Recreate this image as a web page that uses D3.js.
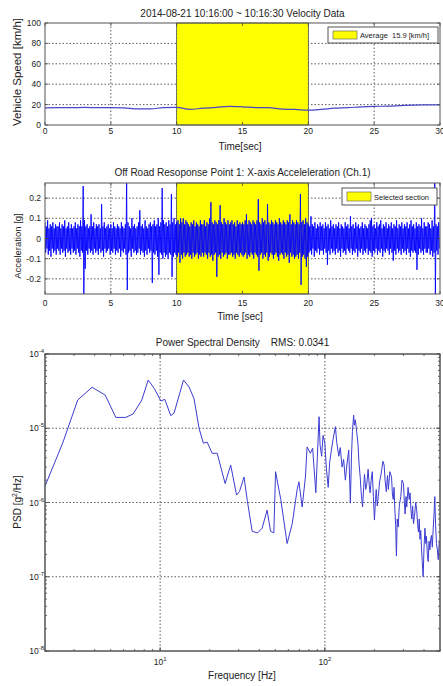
<!DOCTYPE html>
<html>
<head>
<meta charset="utf-8">
<script src="https://cdn.jsdelivr.net/npm/d3@7"></script>
<style>
body { margin: 0; background: #fff; }
text { font-family: "Liberation Sans", Arial, sans-serif; fill: #222; white-space: pre; }
</style>
</head>
<body>
<script>
const width = 443;
const height = 686;

// ---- Panel 1: vehicle speed [km/h] vs time [s]
const velTime = [0,1,2,3,4,5,6,7,8,9,10,11,12,13,14,15,16,17,18,19,20,21,22,23,24,25,26,27,28,29,30];
const velSpeed = [16.8,17,17,17.2,17,17,16.8,15.8,15.8,17,17.2,15.3,16.5,17.2,18.3,17.8,17,17,15.5,15.3,14.5,15.3,16.5,17,17.8,18.3,18.5,19,19.5,19.7,19.8];
const velTicksX = [0,5,10,15,20,25,30];
const velTicksY = [0,20,40,60,80,100];

// ---- Panel 2: acceleration [g], envelope peaks read every 0.1 s (one row per second)
const accStep = 0.1;
const accUpper = [
  0.08,0.06,0.09,0.05,0.07,0.06,0.08,0.05,0.07,0.06,
  0.06,0.08,0.05,0.07,0.06,0.09,0.05,0.06,0.08,0.05,
  0.07,0.05,0.06,0.08,0.05,0.07,0.06,0.09,0.06,0.26,
  0.09,0.06,0.07,0.05,0.06,0.12,0.06,0.08,0.05,0.07,
  0.06,0.07,0.05,0.17,0.06,0.08,0.05,0.06,0.07,0.05,
  0.07,0.05,0.08,0.06,0.05,0.07,0.06,0.05,0.08,0.06,
  0.05,0.07,0.28,0.08,0.06,0.05,0.10,0.06,0.07,0.05,
  0.06,0.08,0.14,0.06,0.07,0.05,0.09,0.06,0.05,0.07,
  0.08,0.06,0.07,0.09,0.06,0.07,0.10,0.06,0.08,0.25,
  0.09,0.07,0.08,0.06,0.09,0.07,0.22,0.08,0.10,0.07,
  0.08,0.09,0.07,0.10,0.08,0.10,0.07,0.09,0.08,0.07,
  0.06,0.08,0.07,0.09,0.06,0.08,0.07,0.06,0.09,0.07,
  0.07,0.09,0.06,0.08,0.07,0.10,0.18,0.08,0.07,0.09,
  0.08,0.07,0.09,0.165,0.08,0.07,0.10,0.08,0.07,0.09,
  0.07,0.08,0.09,0.07,0.08,0.06,0.09,0.07,0.08,0.07,
  0.08,0.07,0.09,0.12,0.07,0.09,0.08,0.07,0.09,0.08,
  0.07,0.09,0.195,0.08,0.07,0.10,0.08,0.09,0.07,0.17,
  0.08,0.07,0.09,0.08,0.07,0.09,0.08,0.07,0.10,0.08,
  0.07,0.09,0.08,0.07,0.09,0.08,0.12,0.07,0.09,0.08,
  0.07,0.09,0.08,0.07,0.22,0.08,0.09,0.07,0.10,0.08,
  0.07,0.06,0.11,0.07,0.06,0.08,0.05,0.07,0.06,0.08,
  0.06,0.07,0.05,0.08,0.06,0.07,0.05,0.09,0.06,0.07,
  0.05,0.07,0.06,0.08,0.05,0.07,0.06,0.05,0.08,0.06,
  0.07,0.05,0.11,0.06,0.07,0.05,0.08,0.06,0.07,0.05,
  0.06,0.08,0.05,0.07,0.06,0.05,0.07,0.09,0.10,0.06,
  0.07,0.05,0.08,0.06,0.07,0.09,0.05,0.07,0.06,0.08,
  0.05,0.07,0.06,0.08,0.05,0.07,0.06,0.09,0.05,0.07,
  0.06,0.08,0.05,0.07,0.06,0.08,0.05,0.07,0.09,0.06,
  0.07,0.05,0.08,0.06,0.07,0.06,0.10,0.05,0.08,0.06,
  0.06,0.08,0.07,0.05,0.09,0.06,0.28,0.07,0.06,0.08
];
const accLower = [
  -0.07,-0.05,-0.08,-0.06,-0.09,-0.05,-0.07,-0.06,-0.08,-0.05,
  -0.06,-0.08,-0.05,-0.07,-0.06,-0.09,-0.05,-0.07,-0.06,-0.08,
  -0.05,-0.07,-0.06,-0.08,-0.05,-0.07,-0.09,-0.06,-0.07,-0.275,
  -0.15,-0.06,-0.08,-0.05,-0.07,-0.06,-0.08,-0.05,-0.07,-0.06,
  -0.08,-0.05,-0.07,-0.06,-0.09,-0.05,-0.07,-0.06,-0.05,-0.08,
  -0.06,-0.07,-0.05,-0.08,-0.06,-0.07,-0.05,-0.09,-0.06,-0.07,
  -0.05,-0.08,-0.255,-0.07,-0.06,-0.09,-0.05,-0.07,-0.06,-0.08,
  -0.07,-0.05,-0.08,-0.06,-0.07,-0.09,-0.06,-0.08,-0.05,-0.07,
  -0.06,-0.22,-0.07,-0.08,-0.06,-0.09,-0.18,-0.07,-0.08,-0.10,
  -0.07,-0.09,-0.08,-0.10,-0.07,-0.08,-0.19,-0.09,-0.07,-0.08,
  -0.09,-0.07,-0.12,-0.08,-0.10,-0.07,-0.09,-0.08,-0.07,-0.09,
  -0.08,-0.10,-0.07,-0.09,-0.08,-0.07,-0.10,-0.08,-0.09,-0.07,
  -0.09,-0.07,-0.08,-0.10,-0.07,-0.09,-0.08,-0.11,-0.08,-0.07,
  -0.19,-0.09,-0.08,-0.10,-0.07,-0.09,-0.08,-0.07,-0.10,-0.08,
  -0.08,-0.07,-0.09,-0.08,-0.10,-0.07,-0.08,-0.09,-0.07,-0.08,
  -0.09,-0.08,-0.07,-0.10,-0.08,-0.09,-0.07,-0.08,-0.10,-0.07,
  -0.08,-0.09,-0.16,-0.08,-0.07,-0.10,-0.08,-0.09,-0.07,-0.11,
  -0.09,-0.07,-0.08,-0.10,-0.08,-0.07,-0.09,-0.11,-0.08,-0.07,
  -0.08,-0.10,-0.07,-0.09,-0.08,-0.12,-0.07,-0.09,-0.08,-0.10,
  -0.09,-0.08,-0.10,-0.07,-0.23,-0.09,-0.08,-0.10,-0.14,-0.09,
  -0.07,-0.06,-0.08,-0.05,-0.09,-0.06,-0.07,-0.05,-0.08,-0.06,
  -0.06,-0.08,-0.05,-0.07,-0.13,-0.06,-0.08,-0.05,-0.07,-0.06,
  -0.08,-0.05,-0.07,-0.06,-0.09,-0.05,-0.07,-0.06,-0.08,-0.05,
  -0.06,-0.07,-0.05,-0.08,-0.06,-0.07,-0.05,-0.09,-0.06,-0.07,
  -0.05,-0.08,-0.06,-0.07,-0.05,-0.08,-0.06,-0.07,-0.09,-0.06,
  -0.07,-0.05,-0.08,-0.06,-0.07,-0.05,-0.09,-0.06,-0.07,-0.05,
  -0.06,-0.08,-0.05,-0.07,-0.11,-0.06,-0.08,-0.05,-0.07,-0.06,
  -0.08,-0.05,-0.07,-0.06,-0.08,-0.05,-0.07,-0.09,-0.06,-0.07,
  -0.06,-0.07,-0.155,-0.08,-0.05,-0.07,-0.06,-0.08,-0.05,-0.07,
  -0.07,-0.05,-0.08,-0.06,-0.09,-0.07,-0.275,-0.06,-0.08,-0.05
];
const accTicksX = [0,5,10,15,20,25,30];
const accTicksY = [-0.2,-0.1,0,0.1,0.2];

// ---- Panel 3: PSD [g^2/Hz] vs frequency [Hz]
const psdFreq = [2,2.56,3.16,3.86,4.64,5.38,6.19,6.86,7.74,8.46,9.2,10.1,10.67,11.6,12.15,13.86,14.98,16.06,17.23,18.3,19.3,20.7,22.2,24.8,26.8,29.1,30.3,32.3,33.8,36.2,39,41.6,44.6,46.8,49,50.2,54,59,63.4,67.9,69.6,72.8,76.2,78,81.7,84.3,
  88.1,90,92.2,93.5,95.6,97.5,100,102,104.8,107,109.6,112,115.9,118,121.5,124,127.2,130,133.2,136,139.6,141,142.8,145,147,149.5,151,153,156.5,159,161,163.9,166,169.4,172,174,177,179.8,183,186,188.3,191,194,197,
  200,203,205,208,211,215,220,225,229,232,236,240,243,248,254,257,260,263,266,269,272,275,279,283,289,294,300,304,307,311,314,320,325,329,333,337,341,345,350,356,361,366,370,374,378,382,386,390,395,
  400,405,410,414,419,424,429,434,439,444,449,454,460,465,470,476,482,488,495];
const psdValue = [1.66e-6,6.3e-6,2.4e-5,3.56e-5,2.8e-5,1.4e-5,1.4e-5,1.56e-5,2.4e-5,4.46e-5,3.45e-5,2.33e-5,2.45e-5,1.48e-5,1.6e-5,4.46e-5,3.6e-5,2.5e-5,1e-5,6.3e-6,6.5e-6,4.6e-6,4.6e-6,1.8e-6,3.2e-6,1.26e-6,1.4e-6,2.2e-6,1.07e-6,4.1e-7,3.9e-7,4.5e-7,7.9e-7,4.1e-7,3.9e-7,2.6e-6,1.1e-6,2.8e-7,5.2e-7,1.5e-6,1.9e-6,8.7e-7,2.2e-6,5.6e-6,4.6e-6,5.4e-6,
  1.35e-6,4e-6,1.43e-5,6e-6,4.2e-6,8e-6,6.3e-6,3e-6,1.6e-6,3.5e-6,5.1e-6,7e-6,1.05e-5,6.5e-6,4.2e-6,5.5e-6,3e-6,3.8e-6,2e-6,3.2e-6,5.1e-6,2.5e-6,9.8e-7,4e-6,9e-6,1.5e-5,1.1e-5,1.3e-5,8.5e-6,6e-6,3.5e-6,2.2e-6,1.4e-6,8.7e-7,1.6e-6,2.4e-6,1.5e-6,1.8e-6,2.8e-6,1.7e-6,1.35e-6,2e-6,2.6e-6,1.2e-6,
  5.8e-7,1.1e-6,1.5e-6,9e-7,1.2e-6,1.9e-6,2.5e-6,3.6e-6,3.2e-6,2e-6,1.4e-6,2.3e-6,1.5e-6,2.6e-6,2.2e-6,1.3e-6,1.1e-6,1.6e-6,8e-7,5e-7,1.9e-7,6e-7,4.7e-7,9e-7,1.2e-6,2e-6,1.8e-6,1e-6,7e-7,1.2e-6,8.7e-7,1.6e-6,1.1e-6,1.35e-6,8e-7,6e-7,9e-7,5.2e-7,6.5e-7,1e-6,8e-7,5e-7,4e-7,6e-7,3.2e-7,4.2e-7,2.5e-7,1.6e-7,1e-7,
  2.5e-7,4.5e-7,2.8e-7,3.5e-7,2e-7,1.6e-7,3e-7,2.3e-7,3.2e-7,3.6e-7,2.5e-7,4.2e-7,7e-7,1.2e-6,5e-7,2.8e-7,2.3e-7,1.7e-7,3e-7];
const psdTicksX = [10,100];
const psdTicksY = [1e-8,1e-7,1e-6,1e-5,1e-4];

const plotLeft = 45, plotRight = 440;

const svg = d3.select('body')
    .append('svg')
    .attr('width', width)
    .attr('height', height);

// shared frame: grid, box and inward ticks, matlab style
function drawGrid(g, x, y, xt, yt, top, bottom) {
    const grid = g.append('g').attr('stroke', '#333').attr('stroke-width', 0.8)
        .attr('stroke-dasharray', '1.5,2');
    xt.filter(d => x(d) > plotLeft + 1 && x(d) < plotRight - 1).forEach(d => {
        grid.append('line').attr('x1', x(d)).attr('x2', x(d)).attr('y1', top).attr('y2', bottom);
    });
    yt.filter(d => y(d) > top + 1 && y(d) < bottom - 1).forEach(d => {
        grid.append('line').attr('x1', plotLeft).attr('x2', plotRight).attr('y1', y(d)).attr('y2', y(d));
    });
}

function drawBox(g, x, y, xt, yt, top, bottom, tl) {
    const t = g.append('g').attr('stroke', '#444').attr('stroke-width', 0.8);
    xt.forEach(d => {
        t.append('line').attr('x1', x(d)).attr('x2', x(d)).attr('y1', bottom).attr('y2', bottom - tl);
        t.append('line').attr('x1', x(d)).attr('x2', x(d)).attr('y1', top).attr('y2', top + tl);
    });
    yt.forEach(d => {
        t.append('line').attr('x1', plotLeft).attr('x2', plotLeft + tl).attr('y1', y(d)).attr('y2', y(d));
        t.append('line').attr('x1', plotRight).attr('x2', plotRight - tl).attr('y1', y(d)).attr('y2', y(d));
    });
    g.append('rect')
        .attr('x', plotLeft).attr('y', top)
        .attr('width', plotRight - plotLeft).attr('height', bottom - top)
        .attr('fill', 'none').attr('stroke', '#555').attr('stroke-width', 1);
}

function addTitle(text, y) {
    svg.append('text').attr('x', (plotLeft + plotRight) / 2).attr('y', y)
        .attr('text-anchor', 'middle').style('font-size', '10px').text(text);
}

function addYLabel(text, cy, size) {
    svg.append('text').attr('transform', `translate(21, ${cy}) rotate(-90)`)
        .attr('text-anchor', 'middle').style('font-size', size + 'px').text(text);
}

function addLegend(x0, y0, w, h, label) {
    const lg = svg.append('g');
    lg.append('rect').attr('x', x0).attr('y', y0).attr('width', w).attr('height', h)
        .attr('fill', '#fff').attr('stroke', '#555').attr('stroke-width', 1);
    lg.append('rect').attr('x', x0 + 5).attr('y', y0 + 4).attr('width', 24).attr('height', h - 8)
        .attr('fill', '#ffff00').attr('stroke', '#555').attr('stroke-width', 0.6);
    lg.append('text').attr('x', x0 + 32).attr('y', y0 + h / 2 + 3)
        .style('font-size', '7.5px').text(label);
}

// ================= Panel 1 =================
{
    const top = 23, bottom = 125;
    const x = d3.scaleLinear().domain([0, 30]).range([plotLeft, plotRight]);
    const y = d3.scaleLinear().domain([0, 100]).range([bottom, top]);
    const g = svg.append('g');
    drawGrid(g, x, y, velTicksX, velTicksY, top, bottom);
    g.append('rect').attr('x', x(10)).attr('y', top).attr('width', x(20) - x(10)).attr('height', bottom - top)
        .attr('fill', '#ffff00').attr('stroke', '#555').attr('stroke-width', 0.8);
    g.append('path').datum(velTime.map((t, i) => [t, velSpeed[i]]))
        .attr('fill', 'none').attr('stroke', '#4646c8').attr('stroke-width', 1.2)
        .attr('d', d3.line().x(d => x(d[0])).y(d => y(d[1])).curve(d3.curveMonotoneX));
    drawBox(g, x, y, velTicksX, velTicksY, top, bottom, 3);
    velTicksX.forEach(d => svg.append('text').attr('x', x(d)).attr('y', 134)
        .attr('text-anchor', 'middle').style('font-size', '8.5px').text(d));
    velTicksY.forEach(d => svg.append('text').attr('x', 41).attr('y', y(d) + 3)
        .attr('text-anchor', 'end').style('font-size', '8.5px').text(d));
    addTitle('2014-08-21 10:16:00 ~ 10:16:30 Velocity Data', 17);
    svg.append('text').attr('x', 240).attr('y', 150).attr('text-anchor', 'middle')
        .style('font-size', '10px').text('Time[sec]');
    addYLabel('Vehicle Speed [km/h]', 72, 11.5);
    addLegend(328, 27, 110, 16, 'Average  15.9 [km/h]');
}

// ================= Panel 2 =================
{
    const top = 183, bottom = 294;
    const x = d3.scaleLinear().domain([0, 30]).range([plotLeft, plotRight]);
    const y = d3.scaleLinear().domain([-0.275, 0.275]).range([bottom, top]);
    const g = svg.append('g');
    svg.append('clipPath').attr('id', 'clip2').append('rect')
        .attr('x', plotLeft).attr('y', top).attr('width', plotRight - plotLeft).attr('height', bottom - top);
    drawGrid(g, x, y, accTicksX, accTicksY, top, bottom);
    g.append('rect').attr('x', x(10)).attr('y', top).attr('width', x(20) - x(10)).attr('height', bottom - top)
        .attr('fill', '#ffff00').attr('stroke', '#555').attr('stroke-width', 0.8);
    // zigzag between the read peaks and troughs
    const pts = [];
    accUpper.forEach((u, i) => {
        pts.push([i * accStep, u]);
        pts.push([i * accStep + accStep / 2, accLower[i]]);
    });
    g.append('path').datum(pts).attr('clip-path', 'url(#clip2)')
        .attr('fill', 'none').attr('stroke', '#0000ff').attr('stroke-width', 0.9)
        .attr('d', d3.line().x(d => x(d[0])).y(d => y(d[1])));
    drawBox(g, x, y, accTicksX, accTicksY, top, bottom, 3);
    accTicksX.forEach(d => svg.append('text').attr('x', x(d)).attr('y', 306)
        .attr('text-anchor', 'middle').style('font-size', '8.5px').text(d));
    accTicksY.forEach(d => svg.append('text').attr('x', 41).attr('y', y(d) + 3)
        .attr('text-anchor', 'end').style('font-size', '8.5px').text(d));
    addTitle('Off Road Resoponse Point 1: X-axis Acceleleration (Ch.1)', 176);
    svg.append('text').attr('x', 240).attr('y', 320).attr('text-anchor', 'middle')
        .style('font-size', '10px').text('Time [sec]');
    addYLabel('Acceleration [g]', 246, 9.5);
    addLegend(342, 188, 95, 17, 'Selected section');
}

// ================= Panel 3 =================
{
    const top = 354, bottom = 651;
    const x = d3.scaleLog().domain([2, 500]).range([plotLeft, plotRight]);
    const y = d3.scaleLog().domain([1e-8, 1e-4]).range([bottom, top]);
    const g = svg.append('g');
    svg.append('clipPath').attr('id', 'clip3').append('rect')
        .attr('x', plotLeft).attr('y', top).attr('width', plotRight - plotLeft).attr('height', bottom - top);
    drawGrid(g, x, y, psdTicksX, psdTicksY, top, bottom);
    g.append('path').datum(psdFreq.map((f, i) => [f, psdValue[i]])).attr('clip-path', 'url(#clip3)')
        .attr('fill', 'none').attr('stroke', '#3c3cd2').attr('stroke-width', 1)
        .attr('d', d3.line().x(d => x(d[0])).y(d => y(d[1])));
    // minor ticks
    const minorX = x.ticks().filter(d => d >= 2 && d <= 500);
    const minorY = y.ticks();
    drawBox(g, x, y, minorX, minorY, top, bottom, 2);
    drawBox(g, x, y, psdTicksX, psdTicksY, top, bottom, 4);
    psdTicksX.forEach(d => {
        const t = svg.append('text').attr('x', x(d)).attr('y', 665).attr('text-anchor', 'middle')
            .style('font-size', '8.5px');
        t.append('tspan').text('10');
        t.append('tspan').attr('dy', -4).style('font-size', '6px').text(Math.round(Math.log10(d)));
    });
    psdTicksY.forEach(d => {
        const t = svg.append('text').attr('x', 44).attr('y', y(d) + 3).attr('text-anchor', 'end')
            .style('font-size', '8.5px');
        t.append('tspan').text('10');
        t.append('tspan').attr('dy', -4).style('font-size', '6px').text(Math.round(Math.log10(d)));
    });
    addTitle('Power Spectral Density    RMS: 0.0341', 346);
    svg.append('text').attr('x', 242).attr('y', 679).attr('text-anchor', 'middle')
        .style('font-size', '10px').text('Frequency [Hz]');
    const yl = svg.append('text').attr('transform', 'translate(21, 502) rotate(-90)')
        .attr('text-anchor', 'middle').style('font-size', '10px');
    yl.append('tspan').text('PSD [g');
    yl.append('tspan').attr('dy', -4).style('font-size', '7px').text('2');
    yl.append('tspan').attr('dy', 4).text('/Hz]');
}
</script>
</body>
</html>
